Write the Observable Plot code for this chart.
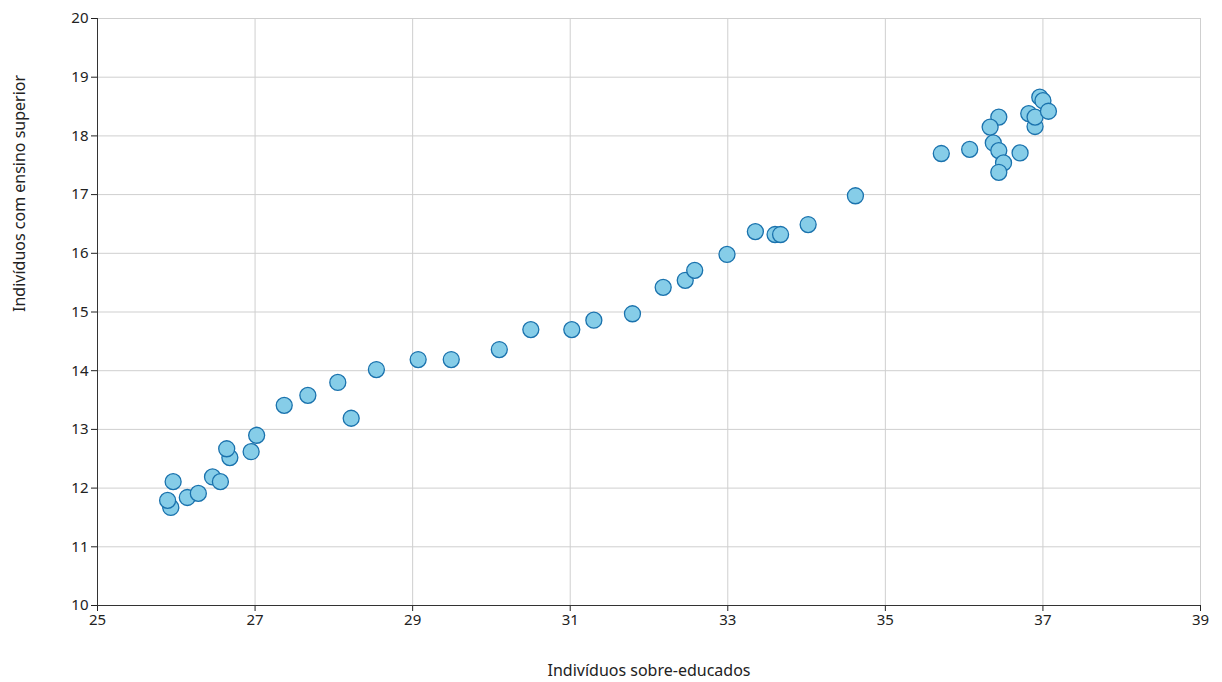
<!DOCTYPE html>
<html>
<head>
<meta charset="utf-8">
<script src="https://cdn.jsdelivr.net/npm/d3@7"></script>
<script src="https://cdn.jsdelivr.net/npm/@observablehq/plot@0.6"></script>
<style>
  body { margin: 0; background: #fff; }
  svg { font-family: "Noto Sans", "Open Sans", sans-serif; }
</style>
</head>
<body>
<div id="chart"></div>
<script>
// sobre-educados (x) vs ensino superior (y)
const sobreEducados = [25.93, 25.89, 25.96, 26.14, 26.28, 26.46, 26.56, 26.68, 26.64, 26.95, 27.02,
  27.37, 27.67, 28.05, 28.22, 28.54, 29.07, 29.49, 30.10, 30.50, 31.02, 31.30, 31.79, 32.18, 32.46,
  32.58, 32.99, 33.35, 33.60, 33.67, 34.02, 34.62, 35.71, 36.07, 36.44, 36.33, 36.37, 36.44, 36.50,
  36.44, 36.71, 36.82, 36.90, 36.90, 36.96, 37.00, 37.07];
const ensinoSuperior = [11.67, 11.79, 12.11, 11.84, 11.91, 12.19, 12.11, 12.52, 12.67, 12.62, 12.90,
  13.41, 13.58, 13.80, 13.19, 14.02, 14.19, 14.19, 14.36, 14.70, 14.70, 14.86, 14.97, 15.42, 15.54,
  15.71, 15.98, 16.37, 16.32, 16.32, 16.49, 16.98, 17.70, 17.77, 18.32, 18.15, 17.88, 17.75, 17.54,
  17.38, 17.71, 18.38, 18.16, 18.32, 18.66, 18.60, 18.42];
const xTicks = [25, 27, 29, 31, 33, 35, 37, 39];
const yTicks = [10, 11, 12, 13, 14, 15, 16, 17, 18, 19, 20];

const pontos = sobreEducados.map((x, i) => ({ x, y: ensinoSuperior[i] }));

const chart = Plot.plot({
  width: 1222,
  height: 682,
  marginLeft: 97,
  marginRight: 22,
  marginTop: 18,
  marginBottom: 77,
  style: { fontSize: "15px", color: "#222", background: "#fff" },
  x: { domain: [25, 39], ticks: xTicks, label: null, tickSize: 6, tickPadding: 6 },
  y: { domain: [10, 20], ticks: yTicks, label: null, tickSize: 6, tickPadding: 6 },
  marks: [
    Plot.gridX(xTicks, { stroke: "#cfcfcf", strokeOpacity: 1 }),
    Plot.gridY(yTicks, { stroke: "#cfcfcf", strokeOpacity: 1 }),
    Plot.axisX({ ticks: xTicks, tickSize: 6, fontSize: 15 }),
    Plot.axisY({ ticks: yTicks, tickSize: 6, fontSize: 15 }),
    Plot.ruleY([10], { stroke: "#333" }),
    Plot.ruleX([25], { stroke: "#333" }),
    Plot.dot(pontos, { x: "x", y: "y", r: 8, fill: "#86cde8", stroke: "#1a72ad", strokeWidth: 1.3 }),
    Plot.text(["Indivíduos sobre-educados"], { frameAnchor: "bottom", dy: 70, fontSize: 16, fill: "#222" }),
    Plot.text(["Indivíduos com ensino superior"], { frameAnchor: "left", dx: -78, rotate: -90, fontSize: 16, fill: "#222" })
  ]
});
document.getElementById("chart").appendChild(chart);
</script>
</body>
</html>
